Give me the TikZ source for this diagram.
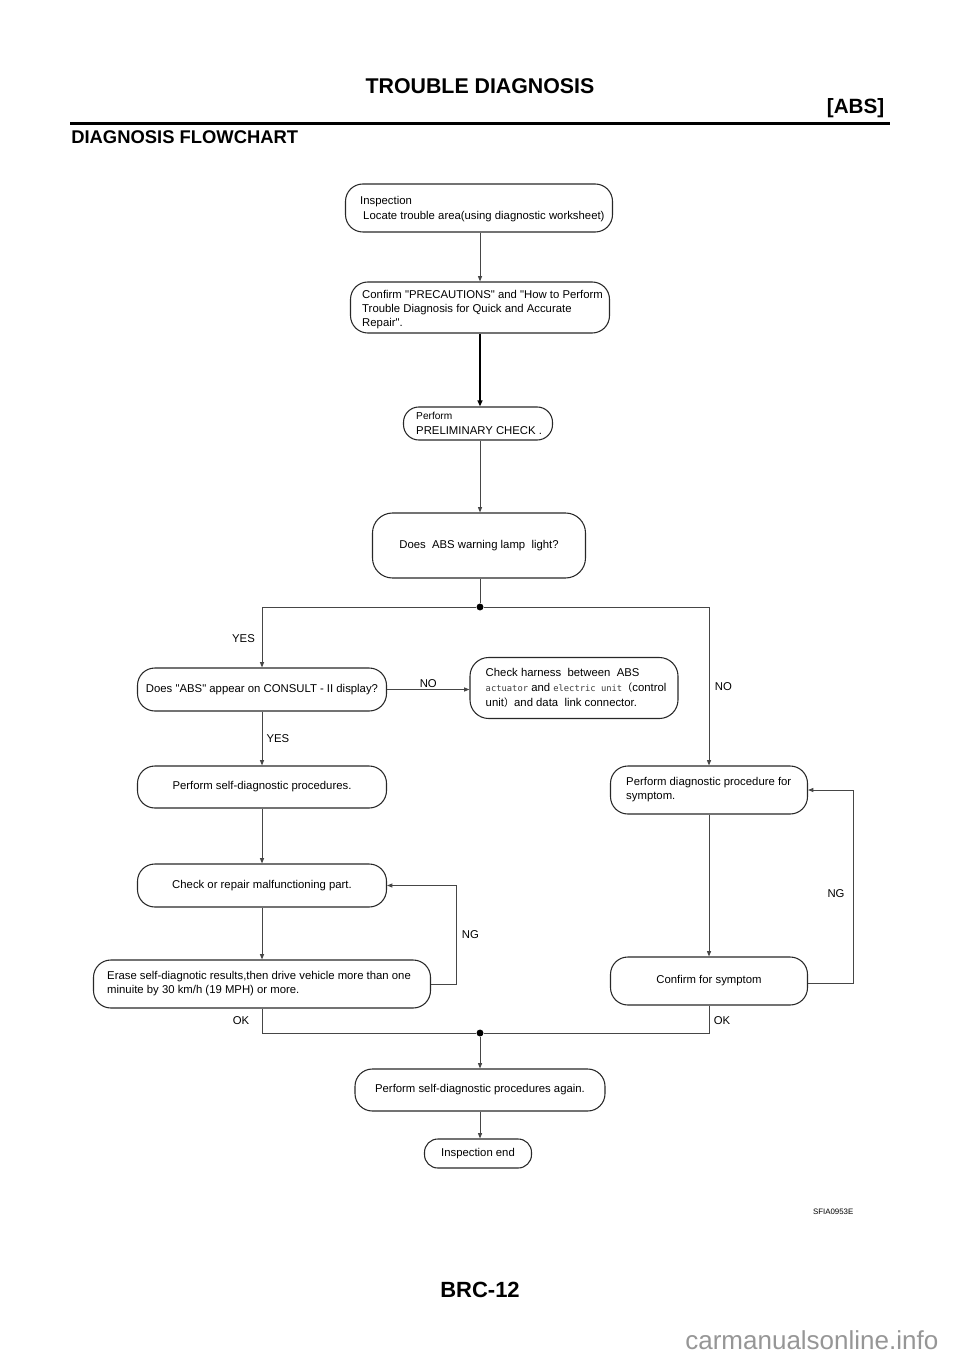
\documentclass[tikz,border=0pt]{standalone}
\usepackage{fontspec}
\setmainfont{Liberation Sans}
\newfontfamily\cjkf{Noto Sans CJK JP}
\newfontfamily\monof{DejaVu Sans Mono}
\usetikzlibrary{arrows.meta}
\definecolor{lnc}{RGB}{70,70,70}
\definecolor{boxc}{RGB}{40,40,40}
\definecolor{wmc}{RGB}{150,150,150}
\definecolor{monoc}{RGB}{60,60,60}
\newcommand\txtfont{\fontsize{8.5}{11.2}\selectfont}
\newcommand\qq{\XeTeXglyph\XeTeXcharglyph"22\relax}
\newcommand\smallmono[1]{{\fontsize{6.6}{11.2}\selectfont\monof\color{monoc}#1}}
\newcommand\widepar[1]{{\fontsize{7.6}{11.2}\selectfont\cjkf #1}}
\tikzset{
  flowbox/.style={draw=boxc, line width=0.8pt, inner sep=0pt, font=\txtfont, align=center, rounded corners=13pt},
  ftxt/.style={inner sep=0pt, font=\txtfont, align=left, anchor=west},
  conn/.style={draw=lnc, line width=0.75pt, -{Triangle[length=4pt,width=3pt]}},
  thickconn/.style={draw=black, line width=1.4pt, -{Triangle[length=4.5pt,width=3.6pt]}},
  plainline/.style={draw=lnc, line width=0.75pt},
  lbl/.style={font=\txtfont, inner sep=1pt},
  jdot/.style={circle, fill=black, inner sep=0pt, minimum size=5.2pt},
}
\begin{document}
\begin{tikzpicture}[x=0.75pt,y=-0.75pt]
\useasboundingbox (0,0) rectangle (960,1358);

% header
\node[font=\fontsize{16}{16}\selectfont\bfseries] (title) at (480,86) {TROUBLE DIAGNOSIS};
\node[font=\fontsize{15.5}{16}\selectfont\bfseries, anchor=east] (abs) at (889,108) {[ABS]};
\draw[line width=1.8pt] (70,123.5) -- (890,123.5);
\node[font=\fontsize{13.8}{14}\selectfont\bfseries, anchor=west, inner sep=0pt] (sub) at (71,137.5) {DIAGNOSIS FLOWCHART};

% main column axis
\coordinate (ax) at (480,0);

% boxes
\node[flowbox, minimum width=267*0.75pt, minimum height=48*0.75pt] (b1) at (479,208) {};
\node[ftxt] (t1) at ([xshift=15*0.75pt,yshift=-0.5pt]b1.west) {Inspection\\\hspace*{2.25pt}Locate trouble area(using diagnostic worksheet)};

\node[flowbox, minimum width=259*0.75pt, minimum height=51*0.75pt] (b2) at (480,307.5) {};
\node[ftxt, font=\fontsize{8.5}{10.5}\selectfont] (t2) at ([xshift=12*0.75pt,yshift=-1.5pt]b2.west) {Confirm \qq PRECAUTIONS\qq{} and \qq How to Perform\\Trouble Diagnosis for Quick and Accurate\\Repair\qq.};

\node[flowbox, minimum width=149*0.75pt, minimum height=33*0.75pt, rounded corners=11.5pt] (b3) at (478,423.5) {};
\node[ftxt] (t3) at ([xshift=13*0.75pt]b3.west) {{\fontsize{7.6}{8.5}\selectfont Perform}\\PRELIMINARY CHECK .};

\node[flowbox, minimum width=213*0.75pt, minimum height=65*0.75pt, rounded corners=15pt] (b4) at (479,545.5) {Does\ \ ABS warning lamp\ \ light?};

\node[jdot] (j1) at (480,607) {};

\node[flowbox, minimum width=249*0.75pt, minimum height=43*0.75pt] (b6) at (262,689.5) {Does \qq ABS\qq{} appear on CONSULT - II display?};

\node[flowbox, minimum width=208*0.75pt, minimum height=61*0.75pt, rounded corners=14pt] (b7) at (574,688) {};
\node[ftxt] (t7) at ([xshift=16*0.75pt]b7.west) {Check harness\ \ between\ \ ABS\\\smallmono{actuator} and \smallmono{electric unit}\widepar{（}control\\unit\widepar{）}and\ data\ \ link connector.};

\node[flowbox, minimum width=249*0.75pt, minimum height=42*0.75pt] (b8) at (262,787) {Perform self-diagnostic procedures.};

\node[flowbox, minimum width=249*0.75pt, minimum height=43*0.75pt] (b9) at (262,885.5) {Check or repair malfunctioning part.};

\node[flowbox, minimum width=337*0.75pt, minimum height=48*0.75pt] (b10) at (262,984) {};
\node[ftxt, font=\fontsize{8.5}{10.5}\selectfont] (t10) at ([xshift=14*0.75pt]b10.west) {Erase self-diagnotic results,then drive vehicle more than one\\minuite by 30 km/h (19 MPH) or more.};

\node[flowbox, minimum width=197*0.75pt, minimum height=48*0.75pt] (b11) at (709,790) {};
\node[ftxt, font=\fontsize{8.5}{10.5}\selectfont] (t11) at ([xshift=16*0.75pt]b11.west) {Perform diagnostic procedure for\\symptom.};

\node[flowbox, minimum width=197*0.75pt, minimum height=48*0.75pt] (b12) at (709,981) {Confirm for symptom};

\node[jdot] (j2) at (480,1033) {};

\node[flowbox, minimum width=250*0.75pt, minimum height=42*0.75pt] (b14) at (480,1090) {Perform self-diagnostic procedures again.};

\node[flowbox, minimum width=107*0.75pt, minimum height=29*0.75pt, rounded corners=10pt] (b15) at (478,1153.5) {Inspection end};

% corner coordinates
\coordinate (c1) at (456,984);
\coordinate (c2) at (853,983);

% connectors
\draw[conn] (b1.south -| ax) -- (b2.north -| ax);
\draw[thickconn] (b2.south -| ax) -- (b3.north -| ax);
\draw[conn] (b3.south -| ax) -- (b4.north -| ax);
\draw[plainline] (b4.south -| ax) -- (j1);
\draw[conn] (j1) -| node[lbl, pos=0.76, left, xshift=-4pt]{YES} (b6);
\draw[conn] (j1) -| node[lbl, pos=0.75, right, xshift=3pt]{NO} (b11);
\draw[conn] (b6.east) -- node[lbl, above, inner sep=2pt, yshift=-1pt]{NO} (b6.east -| b7.west);
\draw[conn] (b6) -- node[lbl, right, xshift=2pt, pos=0.5]{YES} (b8);
\draw[conn] (b8) -- (b9);
\draw[conn] (b9) -- (b10);
\draw[conn] (b10.east |- c1) -- (c1) |- node[lbl, pos=0.25, right, xshift=3pt]{NG} (b9.east);
\draw[plainline] (b10) -- (b10.south |- j2) -- (j2);
\node[lbl] (okl) at (241,1021) {OK};
\draw[plainline] (b12) -- (b12.south |- j2) -- (j2);
\node[lbl] (okr) at (722,1021) {OK};
\draw[conn] (b11) -- (b12);
\draw[conn] (b12.east |- c2) -- (c2) |- node[lbl, pos=0.25, left, xshift=-5pt, yshift=-5pt]{NG} (b11.east);
\draw[conn] (j2) -- (b14);
\draw[conn] (b14.south -| ax) -- (b15.north -| ax);

% footer
\node[font=\fontsize{5.9}{6}\selectfont, anchor=east] (code) at (858,1212) {SFIA0953E};
\node[font=\fontsize{16.5}{17}\selectfont\bfseries] (page) at (480,1290) {BRC-12};
\node[font=\fontsize{19.5}{20}\selectfont, text=wmc, anchor=east] (wm) at (943,1340) {carmanualsonline.info};
\end{tikzpicture}
\end{document}
